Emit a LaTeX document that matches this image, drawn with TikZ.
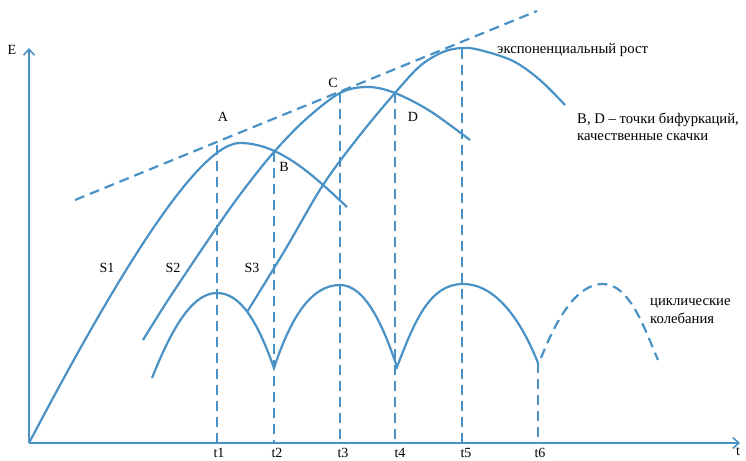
\documentclass[tikz,border=0pt]{standalone}
\usepackage{fontspec}
\setmainfont{Liberation Serif}
\usetikzlibrary{arrows.meta}
\definecolor{cb}{RGB}{74,146,198}
\begin{document}
\begin{tikzpicture}[x=1pt,y=-1pt,
  curve/.style={draw=cb,line width=2.2pt},
  dashline/.style={draw=cb,line width=2.2pt,dash pattern=on 10pt off 6pt},
  axis/.style={draw=cb,line width=2.2pt,-{Straight Barb[length=6pt,width=11pt,line width=1.6pt]}},
  lbl/.style={font=\fontsize{14}{16}\selectfont,inner sep=0pt},
  txt/.style={font=\fontsize{14.7}{17.5}\selectfont,inner sep=0pt,anchor=west,align=left}]
\useasboundingbox (0,0) rectangle (746,460);
\fill[white] (0,0) rectangle (746,460);
% key points
\coordinate (O) at (29,443);
\coordinate (Etop) at (29,48);
\coordinate (Tend) at (740,443);
\coordinate (A) at (217,145);
\coordinate (B) at (274,152);
\coordinate (C) at (340,93);
\coordinate (D) at (395,93);
\coordinate (P1) at (240,143);
\coordinate (P5) at (462,49);
\coordinate (Q6) at (538,363);
\coordinate (X1) at (217,443);
\coordinate (X2) at (274,443);
\coordinate (X3) at (340,443);
\coordinate (X4) at (395,443);
\coordinate (X5) at (462,443);
\coordinate (X6) at (538,443);
% axes
\draw[axis] (O) -- (Etop);
\draw[axis] (O) -- (Tend);
% exponential dashed line
\coordinate (L0) at (75,200);
\coordinate (L1) at (537,11);
\draw[dashline] (L0) -- (L1);
% vertical dashed lines
\draw[dashline] (A) -- (X1);
\draw[dashline] (B) -- (X2);
\draw[dashline] (C) -- (X3);
\draw[dashline] (D) -- (X4);
\draw[dashline] (P5) -- (X5);
\draw[dashline] (Q6) -- (X6);
% S curves
\draw[curve] (O) .. controls (95,318) and (192,143) .. (P1)
  .. controls (280,143) and (315,177) .. (347,207);
\draw[curve] plot[smooth,tension=0.55] coordinates {(143,340) (170,297) (217,227) (245,188) (274,152) (305,120) (340,93) (368,87) (395,93) (430,111) (470,140)};
\draw[curve] plot[smooth,tension=0.55] coordinates {(247,312) (285,250) (323,185) (360,135) (395,93) (420,66) (443,52) (462,48) (480,50) (513,61) (540,80) (565,105)};
% cyclic oscillations
\draw[curve] (152,378) .. controls (175,320) and (195,293) .. (217,293)
  .. controls (240,293) and (257,320) .. (274,368)
  .. controls (290,320) and (310,285) .. (340,285)
  .. controls (365,285) and (383,325) .. (397,367)
  .. controls (415,320) and (430,284) .. (463,284)
  .. controls (500,284) and (525,330) .. (Q6);
\draw[dashline] (541,358) .. controls (560,310) and (580,284) .. (603,284)
  .. controls (630,284) and (645,330) .. (658,360);
% labels
\node[lbl] (lE) at (12,50) {E};
\node[lbl,anchor=west] (lt) at (736,452) {t};
\node[lbl] (lA) at (223,117) {A};
\node[lbl] (lB) at (284,167) {B};
\node[lbl] (lC) at (333,83) {C};
\node[lbl] (lD) at (413,117) {D};
\node[lbl] (lS1) at (107,268) {S1};
\node[lbl] (lS2) at (173,268) {S2};
\node[lbl] (lS3) at (252,268) {S3};
\node[lbl] (l1) at (219,453) {t1};
\node[lbl] (l2) at (277,453) {t2};
\node[lbl] (l3) at (343,453) {t3};
\node[lbl] (l4) at (400,453) {t4};
\node[lbl] (l5) at (466,453) {t5};
\node[lbl] (l6) at (540,453) {t6};
\node[txt] (exp) at (497,50) {экспоненциальный рост};
\node[txt] (bif) at (577,127) {B, D – точки бифуркаций,\\качественные скачки};
\node[txt] (cyc) at (650,311) {циклические\\колебания};
\end{tikzpicture}
\end{document}
